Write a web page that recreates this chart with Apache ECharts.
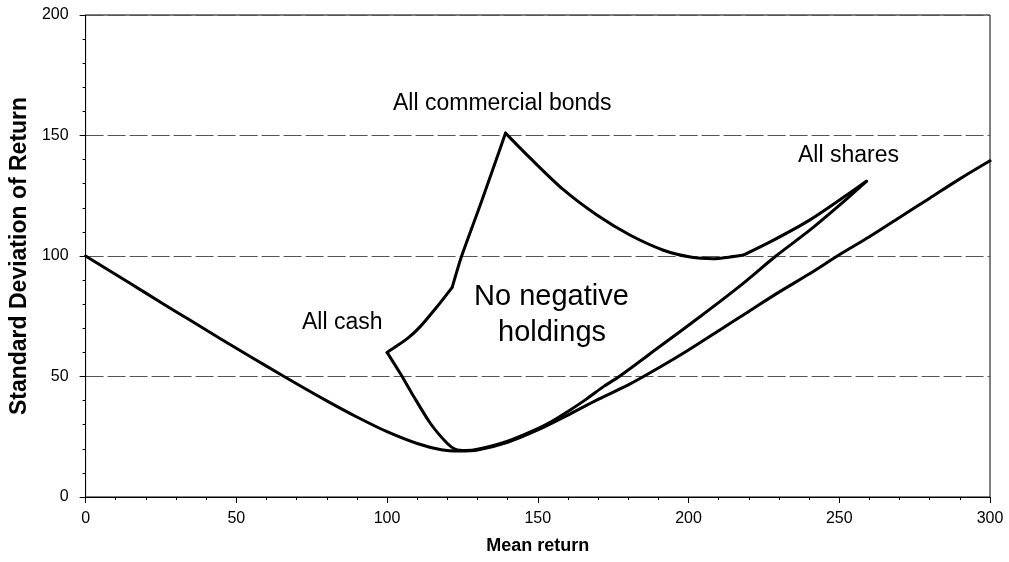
<!DOCTYPE html>
<html>
<head>
<meta charset="utf-8" />
<title>Mean return vs standard deviation</title>
<script src="https://cdn.jsdelivr.net/npm/echarts@6.0.0/dist/echarts.min.js"></script>
<style>
  html, body { margin: 0; padding: 0; background: #fff; }
  #chart { width: 1009px; height: 562px; }
</style>
</head>
<body>
<div id="chart"></div>
<script>
// efficient frontier with short selling allowed
var frontierReturn = [0, 10, 20, 30, 40, 50, 60, 70, 80, 90, 100, 110, 118, 124, 130, 140, 150, 160, 170, 180, 190, 200, 210, 220, 230, 240, 250, 260, 270, 280, 290, 300];
var frontierSd = [100, 92.3, 84.6, 76.9, 69.3, 61.7, 54.3, 47, 39.9, 33.2, 27.1, 22.2, 19.6, 19.1, 19.5, 22.7, 27.8, 34, 40.5, 46.5, 53.5, 61, 69, 77, 85, 92.5, 100.5, 108, 116, 124, 132, 139.5];

// no negative holdings: lower edge, all cash -> all shares
var lowerReturn = [100, 104.5, 108, 114.4, 120, 122.7, 126, 130, 140, 150, 155, 160, 166, 172, 177, 190, 204, 217, 229, 240, 250, 259];
var lowerSd = [60, 51, 43.5, 30.5, 22.2, 19.8, 19.3, 19.8, 23.2, 28.4, 31.6, 35.5, 40.5, 46, 50, 62, 75, 87.5, 100, 110.5, 121, 131];

// no negative holdings: upper edge, in pieces between the corners
// all cash -> kink
var cashReturn = [100, 102.8, 107, 111, 116.6, 121.6];
var cashSd = [60, 62.3, 66, 70.7, 79, 87];
// kink -> all commercial bonds
var riseReturn = [121.6, 124.6, 131, 136.5, 139.3];
var riseSd = [87, 99.5, 121.5, 141, 151];
// all commercial bonds -> dip
var bondsReturn = [139.3, 147.5, 158.6, 169.6, 180.7, 191.7, 200.6, 208.3, 213.8, 218.2];
var bondsSd = [151, 140.6, 127.4, 117, 108.6, 102.4, 99.6, 98.9, 99.6, 100.4];
// dip -> all shares
var sharesReturn = [218.2, 228.2, 240.3, 252.5, 259];
var sharesSd = [100.4, 106.6, 115, 125.3, 131];

var xTicks = [0, 50, 100, 150, 200, 250, 300];
var yTicks = [0, 50, 100, 150, 200];

function pairs(xs, ys) {
  var out = [];
  for (var i = 0; i < xs.length; i++) out.push([xs[i], ys[i]]);
  return out;
}

var font = "'Liberation Sans', Arial, sans-serif";
var chart = echarts.init(document.getElementById('chart'), null, { renderer: 'canvas' });

function curve(name, xs, ys, smooth) {
  return {
    name: name,
    type: 'line',
    data: pairs(xs, ys),
    showSymbol: false,
    smooth: smooth,
    lineStyle: { color: '#000', width: 3, cap: 'round', join: 'round' }
  };
}

chart.setOption({
  animation: false,
  backgroundColor: '#fff',
  grid: {
    left: 85, right: 19, top: 15, bottom: 65,
    show: true, borderColor: '#000', borderWidth: 1
  },
  xAxis: {
    type: 'value',
    min: xTicks[0], max: xTicks[xTicks.length - 1], interval: 50,
    name: 'Mean return',
    nameLocation: 'middle',
    nameGap: 40,
    nameTextStyle: { fontFamily: font, fontSize: 18, fontWeight: 'bold', color: '#000' },
    axisLine: { show: true, lineStyle: { color: '#000', width: 1 } },
    axisTick: { show: true, length: 6, lineStyle: { color: '#000' } },
    minorTick: { show: true, splitNumber: 5, length: 3, lineStyle: { color: '#000' } },
    axisLabel: { fontFamily: font, fontSize: 16, color: '#000', margin: 14 },
    splitLine: { show: false }
  },
  yAxis: {
    type: 'value',
    min: yTicks[0], max: yTicks[yTicks.length - 1], interval: 50,
    name: 'Standard Deviation of Return',
    nameLocation: 'middle',
    nameRotate: 90,
    nameGap: 52,
    nameTextStyle: { fontFamily: font, fontSize: 23, fontWeight: 'bold', color: '#000' },
    axisLine: { show: true, lineStyle: { color: '#000', width: 1 } },
    axisTick: { show: true, length: 6, lineStyle: { color: '#000' } },
    minorTick: { show: true, splitNumber: 5, length: 3, lineStyle: { color: '#000' } },
    axisLabel: { fontFamily: font, fontSize: 16, color: '#000', margin: 17 },
    splitLine: { show: true, lineStyle: { color: '#555', width: 1, type: [18, 4] } }
  },
  series: [
    curve('Frontier', frontierReturn, frontierSd, 0.3),
    curve('Lower edge', lowerReturn, lowerSd, 0.3),
    curve('Cash edge', cashReturn, cashSd, 0.3),
    curve('Rise to bonds', riseReturn, riseSd, 0.2),
    curve('Bonds edge', bondsReturn, bondsSd, 0.3),
    curve('Shares edge', sharesReturn, sharesSd, 0.3)
  ],
  graphic: [
    { type: 'text', left: 393, top: 92, style: { text: 'All commercial bonds', font: '23px ' + font, fill: '#000' } },
    { type: 'text', left: 302, top: 311, style: { text: 'All cash', font: '23px ' + font, fill: '#000' } },
    { type: 'text', left: 798, top: 144, style: { text: 'All shares', font: '23px ' + font, fill: '#000' } },
    { type: 'text', left: 474, top: 282, style: { text: 'No negative', font: '29px ' + font, fill: '#000' } },
    { type: 'text', left: 498, top: 318, style: { text: 'holdings', font: '29px ' + font, fill: '#000' } }
  ]
});
</script>
</body>
</html>
